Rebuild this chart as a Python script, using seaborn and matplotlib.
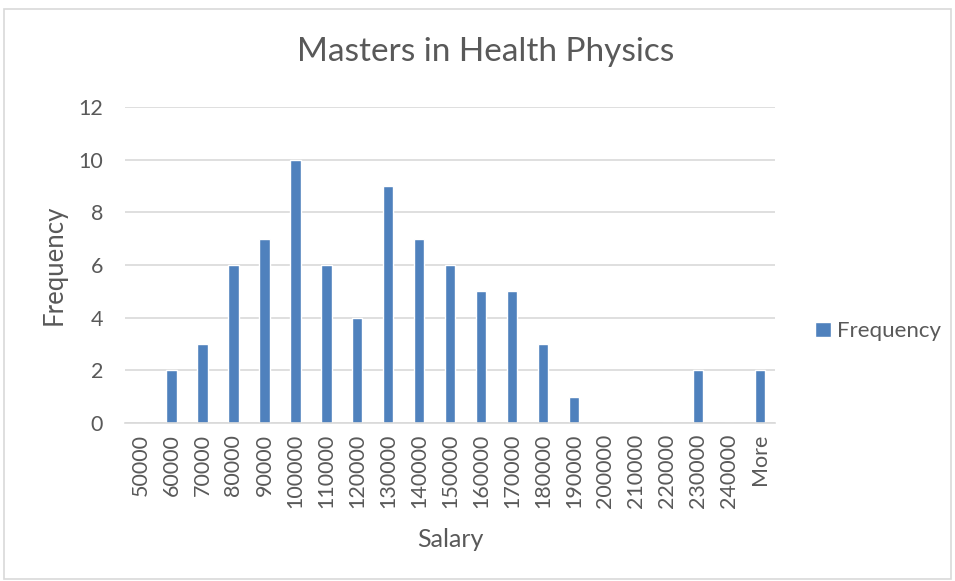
import matplotlib.pyplot as plt
import matplotlib.patches as patches
import seaborn as sns

# Bin labels and counts
bins = ["50000", "60000", "70000", "80000", "90000", "100000", "110000",
        "120000", "130000", "140000", "150000", "160000", "170000",
        "180000", "190000", "200000", "210000", "220000", "230000",
        "240000", "More"]
counts = [0, 2, 3, 6, 7, 10, 6, 4, 9, 7, 6, 5, 5, 3, 1, 0, 0, 0, 2, 0, 2]

sns.set_style("white")
plt.rcParams['font.family'] = ['Lato', 'DejaVu Sans']

fig = plt.figure(figsize=(9.55, 5.81), dpi=100)
ax = fig.add_axes([0.131, 0.272, 0.681, 0.544])

sns.barplot(x=bins, y=counts, color="#4F81BD", width=0.33,
            saturation=1, label="Frequency", ax=ax)

ax.set_ylim(0, 12)
ax.set_yticks(range(0, 13, 2))
ax.grid(axis="y", color="#D9D9D9", linewidth=1.2)
ax.set_axisbelow(True)
for s in ["top", "right", "left"]:
    ax.spines[s].set_visible(False)
ax.spines["bottom"].set_color("#D9D9D9")
ax.spines["bottom"].set_linewidth(1.2)
ax.tick_params(axis="both", length=0, labelsize=15.5, labelcolor="#595959")
ax.tick_params(axis="x", rotation=90, pad=8)
ax.tick_params(axis="y", pad=16)

# Excel centres the title on the whole chart area
fig.text(0.508, 0.91, "Masters in Health Physics", fontsize=24,
         color="#595959", ha="center", va="center")
ax.set_xlabel("Salary", fontsize=18, color="#595959", labelpad=14)
ax.set_ylabel("Frequency", fontsize=18.5, color="#595959", labelpad=8)

ax.legend(loc="center left", bbox_to_anchor=(1.03, 0.29), frameon=False,
          fontsize=16, handlelength=0.7, handleheight=0.7, handletextpad=0.3,
          labelcolor="#595959")

# thin chart-area border
fig.patches.append(patches.Rectangle((0.004, 0.003), 0.992, 0.982,
                                     transform=fig.transFigure, fill=False,
                                     edgecolor="#D9D9D9", linewidth=1.2))

plt.savefig("out.png", dpi=100)
